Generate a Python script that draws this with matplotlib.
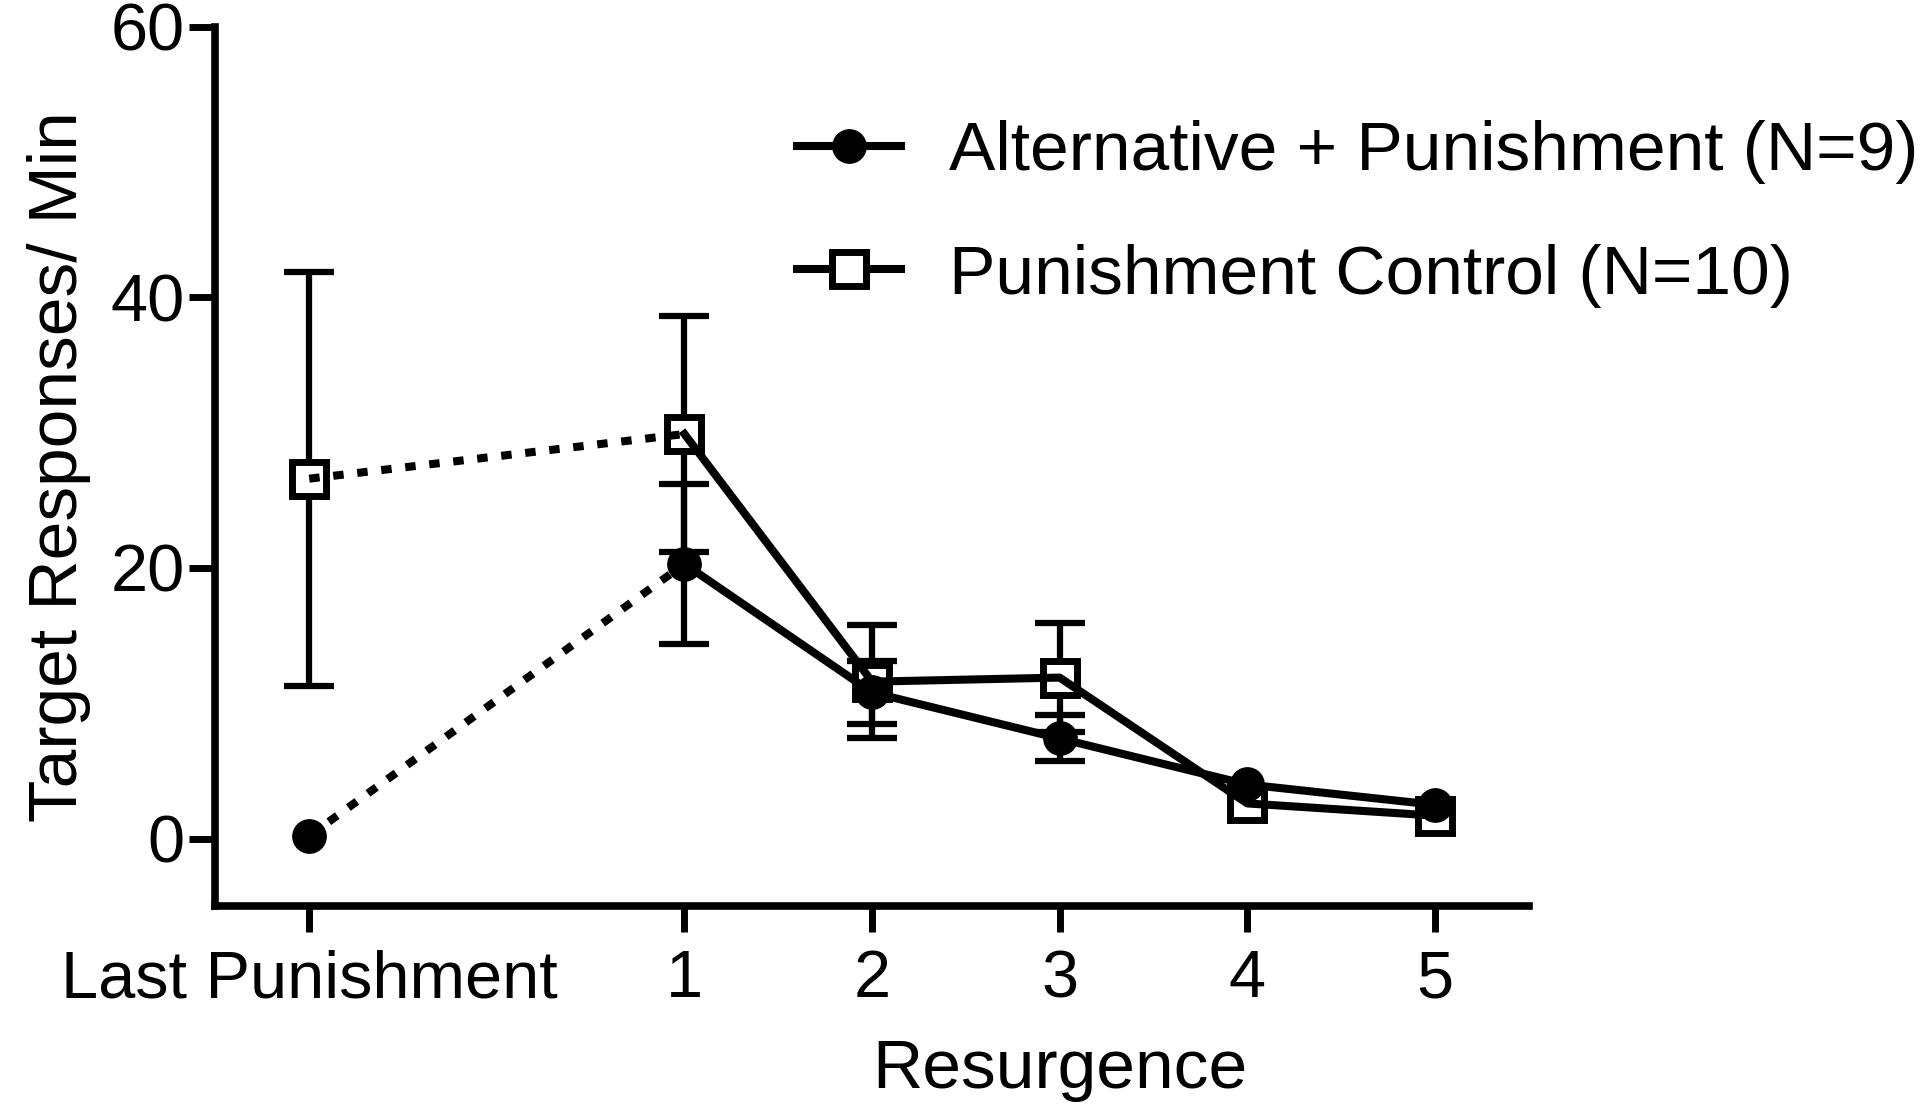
import matplotlib
matplotlib.use("Agg")
import matplotlib.pyplot as plt
from matplotlib.lines import Line2D

plt.rcParams['font.family'] = ['Liberation Sans', 'DejaVu Sans']

# Phase labels (Last Punishment sits one slot left of the resurgence sessions)
x_labels = ["Last Punishment", "1", "2", "3", "4", "5"]
x_pos = [-1, 1, 2, 3, 4, 5]

# Alternative + Punishment (N=9)
alt_mean = [0.2, 20.3, 10.8, 7.4, 4.0, 2.5]
alt_sem = [0.0, 5.9, 2.3, 1.7, 0.0, 0.0]

# Punishment Control (N=10)
ctl_mean = [26.6, 29.9, 11.6, 11.9, 2.6, 1.7]
ctl_sem = [15.3, 8.7, 4.2, 4.0, 0.0, 0.0]

lw = 5.8
fs = 48

fig = plt.figure(figsize=(19.2, 11.12), dpi=100)
ax = fig.add_axes([0.1122, 0.185, 0.684, 0.791])

# error bars (bars hidden inside the symbols are not drawn)
for mean, sem in [(ctl_mean, ctl_sem), (alt_mean, alt_sem)]:
    keep = [i for i, s in enumerate(sem) if s > 0]
    ax.errorbar([x_pos[i] for i in keep], [mean[i] for i in keep],
                yerr=[sem[i] for i in keep], fmt='none', ecolor='black',
                elinewidth=4.5, capsize=18, capthick=4.5, zorder=1)

# square markers (white inside)
ax.plot(x_pos, ctl_mean, linestyle='none', marker='s', markersize=24,
        markerfacecolor='white', markeredgecolor='black', markeredgewidth=5,
        zorder=2)

# dotted segment from last punishment to session 1
dots = (0, (1.3, 1.7))
ax.plot(x_pos[:2], ctl_mean[:2], color='black', lw=lw, linestyle=dots, zorder=3)
ax.plot(x_pos[:2], alt_mean[:2], color='black', lw=lw, linestyle=dots, zorder=3)

# solid lines through resurgence sessions
ax.plot(x_pos[1:], ctl_mean[1:], color='black', lw=lw, zorder=3)
ax.plot(x_pos[1:], alt_mean[1:], color='black', lw=lw, zorder=3)

# filled circles
ax.plot(x_pos, alt_mean, linestyle='none', marker='o', markersize=24,
        color='black', zorder=4)

# axes styling
ax.set_xlim(-1.5, 5.5)
ax.set_ylim(-5, 60)
ax.set_yticks([0, 20, 40, 60])
ax.set_xticks(x_pos)
ax.set_xticklabels(x_labels)
for s in ['top', 'right']:
    ax.spines[s].set_visible(False)
for s in ['left', 'bottom']:
    ax.spines[s].set_linewidth(5.5)
ax.tick_params(axis='both', direction='out', length=19, width=5, labelsize=fs)
ax.tick_params(axis='y', pad=3)
ax.tick_params(axis='x', pad=12)

ax.set_ylabel("Target Responses/ Min", fontsize=50, labelpad=14)
ax.set_xlabel("Resurgence", fontsize=50)
ax.xaxis.set_label_coords(0.643, -0.15)

# legend
h_alt = Line2D([], [], color='black', lw=lw, marker='o', markersize=24)
h_ctl = Line2D([], [], color='black', lw=lw, marker='s', markersize=24,
               markerfacecolor='white', markeredgewidth=5)
ax.legend([h_alt, h_ctl],
          ["Alternative + Punishment (N=9)", "Punishment Control (N=10)"],
          loc='upper left', bbox_to_anchor=(0.395, 0.965), frameon=False,
          fontsize=50, handlelength=1.5, handletextpad=0.7, labelspacing=0.86)

fig.savefig("out.png", dpi=100)
